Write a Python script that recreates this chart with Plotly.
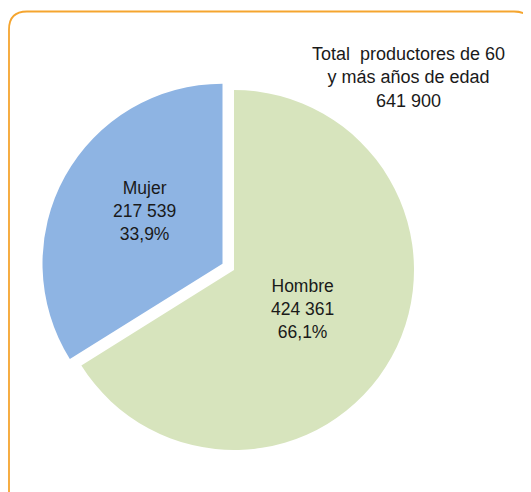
import plotly.graph_objects as go

labels = ["Hombre", "Mujer"]
values = [424361, 217539]
colors = ["#D7E4BD", "#8EB4E3"]
pulls = [0, 0.073]
total_title = ["Total  productores de 60", "y más años de edad"]

OFF = 8  # default page body margin
W, H = 531 - OFF, 492 - OFF
total = sum(values)

def fmt(n):
    return f"{n:,}".replace(",", " ")

def pct(v):
    return f"{v / total * 100:.1f}".replace(".", ",") + "%"

def px(x):
    return (x - OFF) / W

def py(y):
    return 1 - (y - OFF) / H

# pie: centre (234, 270) px, radius 180 px
cx, cy, R = 234, 270, 180
half = R * (1 + max(pulls))
fig = go.Figure(go.Pie(
    labels=labels, values=values, sort=False, direction="clockwise", rotation=0,
    marker=dict(colors=colors, line=dict(width=0)),
    pull=pulls, textinfo="none", hoverinfo="label+value+percent",
    domain=dict(x=[px(cx - half), px(cx + half)], y=[py(cy + half), py(cy - half)]),
    showlegend=False,
))

# Rounded orange frame
x0, y0, x1, y1, r = 9, 11.5, 532, 520, 18
path = (f"M {px(x0)},{py(y0 + r)} Q {px(x0)},{py(y0)} {px(x0 + r)},{py(y0)} "
        f"L {px(x1 - r)},{py(y0)} Q {px(x1)},{py(y0)} {px(x1)},{py(y0 + r)} "
        f"L {px(x1)},{py(y1 - r)} Q {px(x1)},{py(y1)} {px(x1 - r)},{py(y1)} "
        f"L {px(x0 + r)},{py(y1)} Q {px(x0)},{py(y1)} {px(x0)},{py(y1 - r)} Z")
fig.add_shape(type="path", path=path, xref="paper", yref="paper",
              line=dict(color="#F5A52F", width=1.8), fillcolor="rgba(0,0,0,0)")

font = dict(family="Liberation Sans, Arial, sans-serif", size=17.5, color="#1a1a1a")
label_pos = {"Hombre": (302, 309), "Mujer": (144, 211)}
for lab, v in zip(labels, values):
    x, y = label_pos[lab]
    fig.add_annotation(x=px(x), y=py(y), xref="paper", yref="paper",
                       text=f"{lab}<br>{fmt(v)}<br>{pct(v)}", showarrow=False,
                       font=font, align="center", xanchor="center", yanchor="middle")

fig.add_annotation(x=px(408), y=py(77), xref="paper", yref="paper",
                   text="<br>".join(total_title + [fmt(total)]), showarrow=False,
                   font=dict(font, size=18), align="center", xanchor="center", yanchor="middle")

fig.update_layout(width=W, height=H, margin=dict(l=0, r=0, t=0, b=0),
                  paper_bgcolor="white", plot_bgcolor="white")
fig.write_html("out.html")
